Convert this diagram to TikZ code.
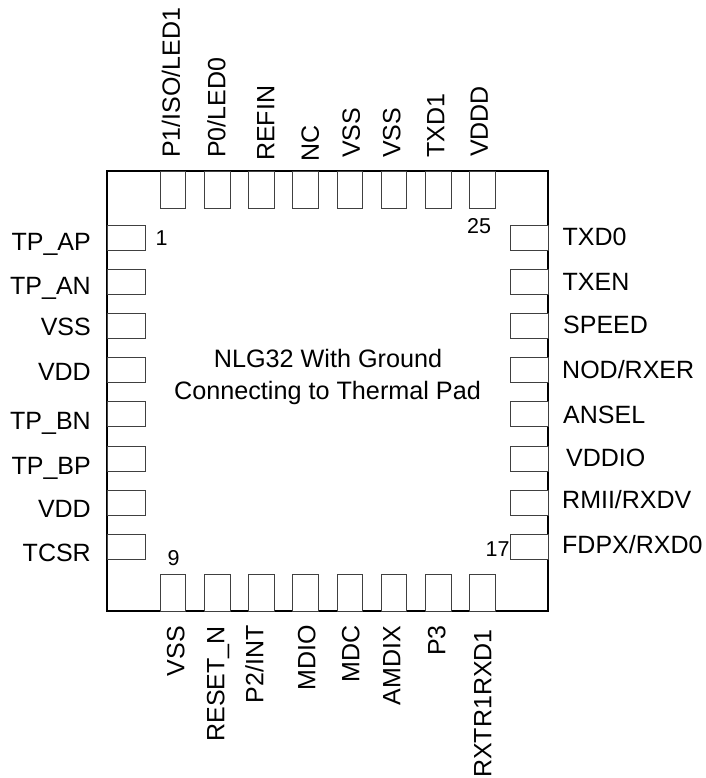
\documentclass[tikz,border=0pt]{standalone}
\usepackage{fontspec}
\setmainfont{Liberation Sans}
\tikzset{
  body/.style={draw=black,line width=1.6pt,fill=white,inner sep=0pt,minimum width=441pt,minimum height=440pt},
  vpad/.style={draw=black!75,line width=0.8pt,fill=white,inner sep=0pt,minimum width=25.5pt,minimum height=37pt},
  hpad/.style={draw=black!75,line width=0.8pt,fill=white,inner sep=0pt,minimum width=38pt,minimum height=25pt},
  pinlabel/.style={font=\fontsize{25}{28}\selectfont,inner sep=0pt,text=black},
  vlabel/.style={pinlabel,rotate=90,text height=17.9pt,text depth=0pt},
  titlelabel/.style={font=\fontsize{25.2}{28}\selectfont,inner sep=0pt,text=black,anchor=base},
  numlabel/.style={font=\fontsize{21.5}{26}\selectfont,inner sep=0pt,text=black,anchor=base}
}
\begin{document}
\begin{tikzpicture}[x=1pt,y=-1pt]
\useasboundingbox (0,0) rectangle (705,778);
\node[body] (pkg) at (327.5,391) {};
\node[titlelabel] (title1) at (328,367) {NLG32 With Ground};
\node[titlelabel] (title2) at (327.5,399) {Connecting to Thermal Pad};
% left pads and labels
\foreach \y/\t [count=\i] in {250/TP\_AP,294/TP\_AN,335/VSS,380/VDD,429.5/TP\_BN,474/TP\_BP,517.5/VDD,561/TCSR}{
  \node[hpad] (L\i) at (126,{237.5+(\i-1)*44.2}) {};
  \node[pinlabel,anchor=base east] (LT\i) at (91,\y) {\t};
}
% right pads and labels
\foreach \y/\t/\xx [count=\i] in {245/TXD0/562.5,290/TXEN/562.5,333/SPEED/563,378/NOD\slash RXER/562,423/ANSEL/563,466/VDDIO/566,508/RMII\slash RXDV/562,553/FDPX\slash RXD0/562}{
  \node[hpad] (R\i) at (529.5,{237.5+(\i-1)*44.2}) {};
  \node[pinlabel,anchor=base west] (RT\i) at (\xx,\y) {\t};
}
% top pads and labels
\foreach \x/\yy/\t [count=\i] in {171/158/P1\slash ISO\slash LED1,216.5/158/P0\slash LED0,265.5/161/REFIN,310/162/NC,351/158/VSS,391.5/158/VSS,435.5/157.5/TXD1,479/157/VDDD}{
  \node[vpad] (T\i) at ({173+(\i-1)*44.2},189.5) {};
  \node[vlabel,anchor=west] (TT\i) at (\x,\yy) {\t};
}
% bottom pads and labels
\foreach \x/\yy/\t [count=\i] in {175.5/626/VSS,215.5/626/RESET\_N,254.5/625/P2\slash INT,306.5/625/MDIO,350.5/625/MDC,391.5/626/AMDIX,436.5/625/P3,482.5/629/RXTR1RXD1}{
  \node[vpad] (B\i) at ({173+(\i-1)*44.2},592.5) {};
  \node[vlabel,anchor=east] (BT\i) at (\x,\yy) {\t};
}
\node[numlabel] (n1) at (161.5,245) {1};
\node[numlabel] (n9) at (173.5,565) {9};
\node[numlabel] (n17) at (497.5,556) {17};
\node[numlabel] (n25) at (479,233) {25};
\end{tikzpicture}
\end{document}
